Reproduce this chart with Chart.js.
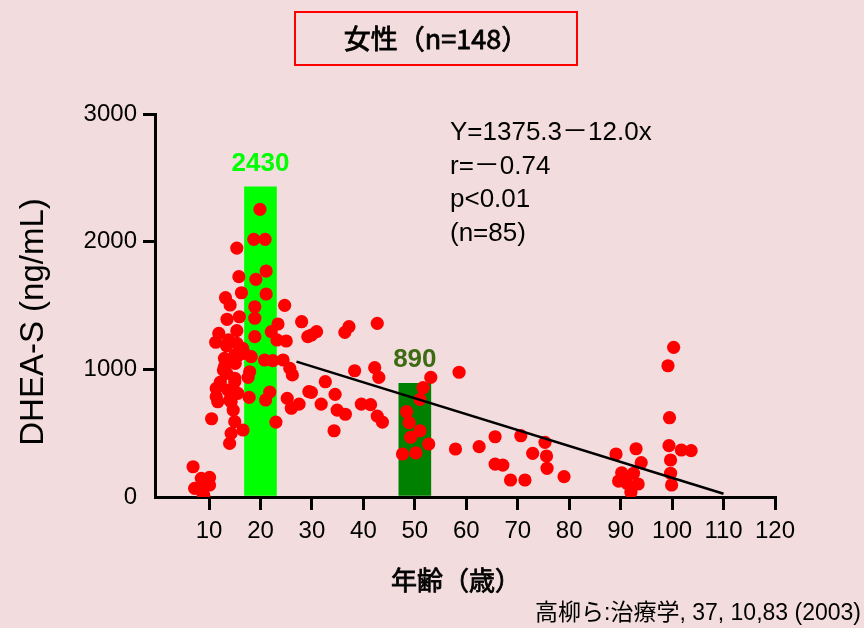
<!DOCTYPE html>
<html>
<head>
<meta charset="utf-8">
<script src="https://cdn.jsdelivr.net/npm/chart.js@4.4.1/dist/chart.umd.min.js"></script>
<style>
  html, body { margin: 0; padding: 0; background: #f2dcdd; }
  #wrap { width: 864px; height: 628px; position: relative; }
</style>
</head>
<body>
<div id="wrap"><canvas id="chart-dhea" width="864" height="628"></canvas></div>
<script>
// 女性 DHEA-S 散布図
const ages = [
  19.9, 18.7, 20.9, 15.4, 21.1, 15.8, 19.1, 21.1, 16.3, 13.2, 14.1, 24.7, 18.9, 18.9, 15.9, 13.5,
  28.0, 23.4, 29.2, 18.9, 22.1, 15.4, 11.9, 11.3, 23.2, 25.0, 13.4, 15.4, 16.5, 18.2, 20.8, 22.4,
  24.4, 13.0, 15.0, 25.7, 26.2, 17.9, 12.8, 15.0, 11.4, 11.7, 15.6, 14.0, 17.8, 21.8, 21.0, 25.2,
  27.5, 26.0, 29.4, 10.5, 14.7, 15.0, 16.6, 14.3, 14.0, 23.0, 6.9, 8.5, 10.1, 8.2, 10.1, 8.8,
  7.2, 15.6, 16.9, 13.0, 15.1, 13.4, 15.0, 17.6, 11.4, 13.7, 14.3, 9.5, 9.0, 14.6, 12.2, 13.8,
  29.9, 30.9, 36.4, 37.2, 42.7, 38.3, 42.2, 43.0, 53.1, 51.6, 51.0, 58.6, 32.6, 29.9, 34.5, 31.8,
  34.9, 36.5, 39.6, 41.4, 42.7, 43.7, 34.3, 48.4, 48.9, 51.0, 49.2, 52.7, 47.6, 50.2, 57.9, 62.5,
  65.6, 65.6, 67.1, 68.6, 71.4, 70.6, 72.9, 75.3, 75.6, 75.7, 79.0,
  89.1, 93.0, 94.0, 90.2, 89.6, 91.2, 92.5, 93.4, 92.0, 91.2,
  100.3, 99.2, 99.5, 99.4, 101.8, 103.7, 99.7, 99.7, 99.9
];
const dhea = [
  2253, 2018, 2018, 1950, 1770, 1726, 1705, 1590, 1600, 1561, 1504, 1501, 1490, 1400, 1412, 1392,
  1373, 1355, 1256, 1256, 1295, 1303, 1282, 1212, 1230, 1222, 1185, 1204, 1165, 1099, 1073, 1068,
  1073, 1086, 1112, 1008, 956, 981, 995, 903, 851, 746, 812, 760, 781, 822, 760, 773,
  728, 695, 825, 613, 681, 590, 525, 499, 420, 587, 237, 146, 154, 68, 94, 29,
  68, 1107, 1125, 1020, 1047, 969, 930, 937, 786, 838, 746, 120, 10, 1075, 900, 1230,
  1269, 1295, 1290, 1334, 1360, 989, 1013, 937, 937, 856, 765, 977, 903, 820, 804, 728,
  681, 648, 728, 723, 634, 587, 519, 668, 582, 519, 468, 415, 337, 345, 376, 394,
  472, 258, 250, 133, 133, 480, 342, 428, 321, 225, 159,
  337, 378, 269, 190, 125, 159, 186, 102, 37, 107,
  1172, 1028, 621, 402, 368, 363, 290, 186, 94
];

// 年代別平均
const barAges = [20, 50];
const barMeans = [2430, 890];
const barColors = ['#00ff00', '#008000'];
const barLabelColors = ['#00ff00', '#3d6b12'];

// 回帰直線
const fitAges = [27, 110];
const fitValues = [1060, 25];

const xTicks = [10, 20, 30, 40, 50, 60, 70, 80, 90, 100, 110, 120];
const yTicks = [0, 1000, 2000, 3000];

const titleText = '女性（n=148）';
const statLines = ['Y=1375.3－12.0x', 'r=－0.74', 'p<0.01', '(n=85)'];
const sourceText = '高柳ら:治療学, 37, 10,83 (2003)';

// medium-weight look: regular fill plus a thin stroke
function mediumText(ctx, text, x, y) {
  ctx.fillText(text, x, y);
  ctx.lineWidth = 0.8;
  ctx.strokeStyle = ctx.fillStyle;
  ctx.strokeText(text, x, y);
}

const extras = {
  id: 'extras',
  afterDraw(chart) {
    const ctx = chart.ctx;
    ctx.save();

    // title box
    ctx.strokeStyle = '#ff0000';
    ctx.lineWidth = 2;
    ctx.strokeRect(295, 12, 282, 53);
    ctx.fillStyle = '#000';
    ctx.font = '27px "Noto Sans CJK JP"';
    ctx.textAlign = 'center';
    ctx.textBaseline = 'middle';
    mediumText(ctx, titleText, 436, 39);

    // bar value labels
    const barMeta = chart.getDatasetMeta(0);
    ctx.font = 'bold 26px "Liberation Sans", Arial, sans-serif';
    ctx.textBaseline = 'alphabetic';
    barMeta.data.forEach((bar, i) => {
      ctx.fillStyle = barLabelColors[i];
      ctx.fillText(String(barMeans[i]), bar.x, bar.y - 16);
    });

    // y axis title
    ctx.save();
    ctx.translate(34, 322);
    ctx.rotate(-Math.PI / 2);
    ctx.fillStyle = '#000';
    ctx.font = '33px "Liberation Sans", Arial, sans-serif';
    ctx.textAlign = 'center';
    ctx.textBaseline = 'middle';
    ctx.fillText('DHEA-S (ng/mL)', 0, 0);
    ctx.restore();

    // regression stats
    ctx.fillStyle = '#000';
    ctx.font = '26px "Liberation Sans", "Noto Sans CJK JP", sans-serif';
    ctx.textAlign = 'left';
    ctx.textBaseline = 'middle';
    statLines.forEach((t, i) => ctx.fillText(t, 450, 133 + i * 33.5));

    // x axis title
    ctx.font = '26px "Noto Sans CJK JP"';
    ctx.textAlign = 'center';
    mediumText(ctx, '年齢（歳）', 456, 580);

    // source
    ctx.font = '23px "Liberation Sans", "Noto Sans CJK JP", sans-serif';
    ctx.textAlign = 'right';
    ctx.fillText(sourceText, 861, 614);

    ctx.restore();
  }
};

const ctx = document.getElementById('chart-dhea');
const myChart = new Chart(ctx, {
  type: 'scatter',
  data: {
    datasets: [{
      type: 'bar',
      data: barAges.map((a, i) => ({x: a, y: barMeans[i]})),
      backgroundColor: barColors,
      borderWidth: 0,
      barThickness: 32,
      order: 2
    }, {
      type: 'scatter',
      data: ages.map((a, i) => ({x: a, y: dhea[i]})),
      backgroundColor: '#ff0000',
      borderWidth: 0,
      pointRadius: 6.6,
      order: 1
    }, {
      type: 'line',
      data: fitAges.map((a, i) => ({x: a, y: fitValues[i]})),
      borderColor: '#000',
      borderWidth: 2.5,
      pointRadius: 0,
      fill: false,
      order: 0
    }]
  },
  options: {
    responsive: false,
    animation: false,
    layout: {padding: {left: 0, right: 89, top: 114, bottom: 0}},
    plugins: {legend: {display: false}, tooltip: {enabled: false}},
    scales: {
      x: {
        type: 'linear',
        min: -0.5,
        max: 120,
        offset: false,
        afterBuildTicks: s => { s.ticks = xTicks.map(v => ({value: v})); },
        afterFit: s => { s.height = 131; },
        border: {color: '#000', width: 3},
        grid: {offset: false, drawOnChartArea: false, color: '#000', lineWidth: 3, tickLength: 13},
        ticks: {
          color: '#000',
          padding: 7,
          maxRotation: 0,
          autoSkip: false,
          callback: v => String(v),
          font: {family: '"Liberation Sans", Arial, sans-serif', size: 24}
        }
      },
      y: {
        min: 0,
        max: 3000,
        afterBuildTicks: s => { s.ticks = yTicks.map(v => ({value: v})); },
        afterFit: s => { s.width = 155; },
        border: {color: '#000', width: 3},
        grid: {
          drawOnChartArea: false,
          color: '#000',
          lineWidth: 3,
          tickLength: 12,
          tickColor: c => (c.tick && c.tick.value === 0) ? 'rgba(0,0,0,0)' : '#000'
        },
        ticks: {
          color: '#000',
          padding: 6,
          callback: v => String(v),
          font: {family: '"Liberation Sans", Arial, sans-serif', size: 24}
        }
      }
    }
  },
  plugins: [extras]
});
</script>
</body>
</html>
